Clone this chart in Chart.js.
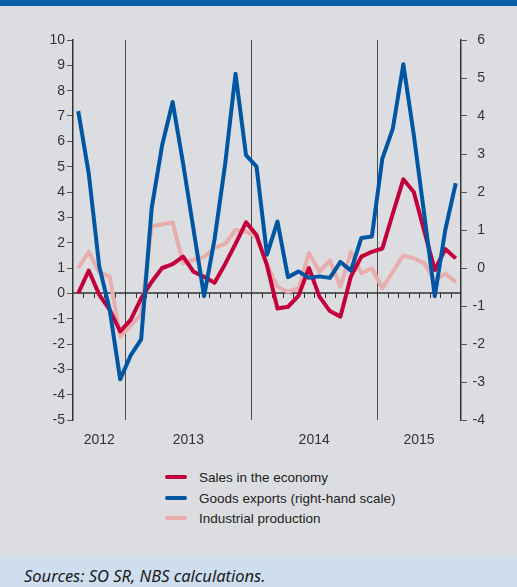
<!DOCTYPE html>
<html>
<head>
<meta charset="utf-8">
<script src="https://cdn.jsdelivr.net/npm/chart.js@4.4.1/dist/chart.umd.min.js"></script>
<style>
  html, body { margin: 0; padding: 0; }
  body { width: 517px; height: 587px; position: relative; background: #dcdde0; overflow: hidden; font-family: "Liberation Sans", Arial, sans-serif; }
  #topband { position: absolute; left: 0; top: 0; width: 517px; height: 6px; background: #0a5fa8; }
  #chart { position: absolute; left: 0; top: 0; }
  #legend { position: absolute; left: 165px; top: 468px; }
  .item { height: 20.5px; line-height: 20.5px; font-size: 13.5px; color: #222; white-space: nowrap; }
  .swatch { display: inline-block; width: 22px; height: 4px; border-radius: 2px; vertical-align: middle; margin-right: 12px; position: relative; top: -1px; }
  #sources { position: absolute; left: 0; top: 557px; width: 517px; height: 30px; background: #cedeef; }
  #sources span { position: absolute; left: 24px; top: 6px; font-family: "Noto Sans", sans-serif; font-style: italic; font-size: 16.5px; color: #1a1a1a; line-height: 26px; }
</style>
</head>
<body>
<div id="topband"></div>
<canvas id="chart" width="517" height="455"></canvas>
<div id="legend"></div>
<div id="sources"><span>Sources: SO SR, NBS calculations.</span></div>
<script>
// monthly data, Aug 2012 - Aug 2015
const months = [
  '2012-08', '2012-09', '2012-10', '2012-11', '2012-12',
  '2013-01', '2013-02', '2013-03', '2013-04', '2013-05', '2013-06', '2013-07', '2013-08', '2013-09', '2013-10', '2013-11', '2013-12',
  '2014-01', '2014-02', '2014-03', '2014-04', '2014-05', '2014-06', '2014-07', '2014-08', '2014-09', '2014-10', '2014-11', '2014-12',
  '2015-01', '2015-02', '2015-03', '2015-04', '2015-05', '2015-06', '2015-07', '2015-08'
];
const years = ['2012', '2013', '2014', '2015'];

const sales = [0.0, 0.9, -0.05, -0.65, -1.5, -1.05, -0.2, 0.45, 1.0, 1.15, 1.45, 0.85, 0.65, 0.42, 1.15, 1.95, 2.8,
  2.3, 1.1, -0.6, -0.53, -0.1, 1.0, -0.13, -0.7, -0.92, 0.66, 1.45, 1.64,
  1.77, 3.15, 4.5, 4.0, 2.45, 0.92, 1.75, 1.38];
// right-hand scale
const exportsGoods = [4.13, 2.49, 0.05, -1.1, -2.93, -2.3, -1.88, 1.57, 3.23, 4.37, 2.75, 1.0, -0.74, 0.76, 2.71, 5.11, 2.97,
  2.67, 0.35, 1.22, -0.24, -0.09, -0.26, -0.22, -0.26, 0.16, -0.07, 0.79, 0.83,
  2.88, 3.67, 5.36, 3.5, 1.4, -0.74, 1.0, 2.23];
const industry = [1.0, 1.64, 0.82, 0.66, -1.71, -1.28, -0.82, 2.65, 2.72, 2.8, 1.19, 1.33, 1.43, 1.8, 1.95, 2.5, 2.45,
  2.2, 1.15, 0.25, 0.06, 0.2, 1.58, 0.85, 1.3, 0.26, 1.64, 0.8, 0.99,
  0.2, 0.85, 1.5, 1.38, 1.19, 0.5, 0.78, 0.44];

const RED = '#c4003c';
const BLUE = '#0056a2';
const PINK = '#e9adad';
const TICK_FONT = { family: 'Liberation Sans', size: 14 };

// year separators, zero line with month ticks, year labels
const yearMarks = {
  id: 'yearMarks',
  beforeDatasetsDraw(chart) {
    const { ctx, chartArea, scales } = chart;
    const x = scales.x, y = scales.y;
    const half = (i) => (x.getPixelForValue(i - 1) + x.getPixelForValue(i)) / 2;
    ctx.save();

    ctx.strokeStyle = '#4a4a4a';
    ctx.lineWidth = 1;
    for (let i = 1; i < months.length; i++) {
      if (months[i].slice(0, 4) !== months[i - 1].slice(0, 4)) {
        const px = Math.round(half(i)) + 0.5;
        ctx.beginPath();
        ctx.moveTo(px, chartArea.top);
        ctx.lineTo(px, chartArea.bottom);
        ctx.stroke();
      }
    }

    const y0 = Math.round(y.getPixelForValue(0));
    ctx.strokeStyle = '#333';
    ctx.lineWidth = 1;
    for (let i = 1; i < months.length; i++) {
      const px = Math.round(half(i)) + 0.5;
      ctx.beginPath();
      ctx.moveTo(px, y0);
      ctx.lineTo(px, y0 + 5);
      ctx.stroke();
    }
    ctx.lineWidth = 1.5;
    ctx.beginPath();
    ctx.moveTo(chartArea.left, y0);
    ctx.lineTo(chartArea.right, y0);
    ctx.stroke();

    ctx.fillStyle = '#333';
    ctx.font = '14px "Liberation Sans"';
    ctx.textAlign = 'center';
    ctx.textBaseline = 'middle';
    years.forEach(yr => {
      const idx = months.map((m, i) => m.startsWith(yr) ? i : -1).filter(i => i >= 0);
      const px = (x.getPixelForValue(idx[0]) + x.getPixelForValue(idx[idx.length - 1])) / 2;
      ctx.fillText(yr, px, chartArea.bottom + 20);
    });
    ctx.restore();
  }
};

const ctx = document.getElementById('chart').getContext('2d');
const chart = new Chart(ctx, {
  type: 'line',
  data: {
    labels: months,
    datasets: [
      { label: 'Sales in the economy', data: sales, yAxisID: 'y', borderColor: RED, order: 1 },
      { label: 'Goods exports (right-hand scale)', data: exportsGoods, yAxisID: 'y1', borderColor: BLUE, order: 0 },
      { label: 'Industrial production', data: industry, yAxisID: 'y', borderColor: PINK, order: 2 }
    ]
  },
  options: {
    responsive: false,
    animation: false,
    layout: { padding: { top: 40, left: 0, right: 32, bottom: 35 } },
    elements: {
      line: { borderWidth: 4, tension: 0, borderJoinStyle: 'round', borderCapStyle: 'butt' },
      point: { radius: 0 }
    },
    plugins: { legend: { display: false }, tooltip: { enabled: false } },
    scales: {
      x: { display: false, offset: true },
      y: {
        position: 'left', min: -5, max: 10,
        afterFit: (s) => { s.width = 73; },
        ticks: { stepSize: 1, font: TICK_FONT, color: '#333', padding: 2 },
        grid: { drawOnChartArea: false, tickLength: 6, color: '#555' },
        border: { color: '#333', width: 1.5 }
      },
      y1: {
        position: 'right', min: -4, max: 6,
        afterFit: (s) => { s.width = 24; },
        ticks: { stepSize: 1, font: TICK_FONT, color: '#333', crossAlign: 'far' },
        grid: { drawOnChartArea: false, tickLength: 6, color: '#555' },
        border: { color: '#333', width: 1.5 }
      }
    }
  },
  plugins: [yearMarks]
});

// legend, one item per line
const legend = document.getElementById('legend');
chart.data.datasets.forEach(ds => {
  const row = document.createElement('div');
  row.className = 'item';
  row.innerHTML = '<span class="swatch" style="background:' + ds.borderColor + '"></span>' + ds.label;
  legend.appendChild(row);
});
</script>
</body>
</html>
